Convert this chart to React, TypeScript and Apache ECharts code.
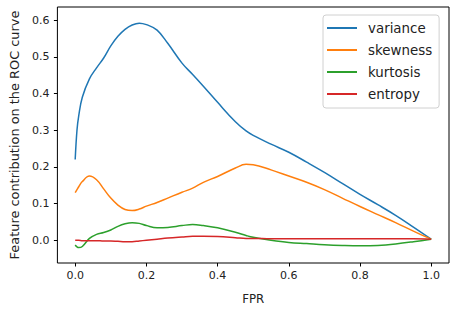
import React, { useEffect, useRef } from "react";
import * as echarts from "echarts";

const fpr = [0, 0.005, 0.01, 0.02, 0.04, 0.06, 0.08, 0.1, 0.12, 0.14, 0.16, 0.18, 0.2, 0.23, 0.26, 0.3, 0.33, 0.36, 0.4, 0.45, 0.48, 0.5, 0.55, 0.6, 0.65, 0.7, 0.75, 0.8, 0.85, 0.9, 0.95, 1.0];
const variance = [0.22, 0.30, 0.34, 0.39, 0.44, 0.47, 0.497, 0.53, 0.556, 0.575, 0.587, 0.592, 0.588, 0.573, 0.537, 0.483, 0.452, 0.42, 0.376, 0.323, 0.298, 0.286, 0.262, 0.24, 0.213, 0.185, 0.155, 0.125, 0.097, 0.068, 0.036, 0.003];
const skewness = [0.13, 0.138, 0.146, 0.16, 0.175, 0.165, 0.14, 0.115, 0.096, 0.084, 0.081, 0.085, 0.093, 0.103, 0.115, 0.131, 0.142, 0.158, 0.174, 0.197, 0.207, 0.206, 0.192, 0.175, 0.158, 0.138, 0.115, 0.092, 0.07, 0.048, 0.025, 0.003];
const kurtosis = [-0.013, -0.018, -0.02, -0.017, 0.005, 0.016, 0.021, 0.028, 0.038, 0.045, 0.048, 0.046, 0.04, 0.034, 0.035, 0.04, 0.043, 0.04, 0.034, 0.022, 0.013, 0.008, 0.0, -0.006, -0.009, -0.012, -0.014, -0.015, -0.014, -0.01, -0.004, 0.003];
const entropy = [0.0, 0.0, 0.0, -0.001, -0.001, -0.001, -0.002, -0.002, -0.003, -0.004, -0.004, -0.002, 0.0, 0.003, 0.006, 0.009, 0.011, 0.011, 0.01, 0.007, 0.005, 0.005, 0.004, 0.004, 0.004, 0.004, 0.004, 0.004, 0.004, 0.004, 0.004, 0.003];

const seriesNames = ["variance", "skewness", "kurtosis", "entropy"];
const seriesValues = [variance, skewness, kurtosis, entropy];
const colors = ["#1f77b4", "#ff7f0e", "#2ca02c", "#d62728"];
const xTicks = [0, 0.2, 0.4, 0.6, 0.8, 1.0];
const yTicks = [0, 0.1, 0.2, 0.3, 0.4, 0.5, 0.6];

export default function App() {
  const ref = useRef<HTMLDivElement>(null);
  useEffect(() => {
    document.body.style.margin = "0";
    const chart = echarts.init(ref.current!, null, { renderer: "svg" });
    const font = "DejaVu Sans";
    const fs = 11;
    chart.setOption({
      animation: false,
      backgroundColor: "#ffffff",
      color: colors,
      grid: {
        left: 52,
        right: 8,
        top: 7,
        bottom: 45,
        show: true,
        borderColor: "#000",
        borderWidth: 1,
        backgroundColor: "transparent",
      },
      legend: {
        orient: "vertical",
        left: 323,
        top: 15,
        width: 119,
        padding: [5, 7, 6, 4],
        itemWidth: 30,
        itemHeight: 2,
        itemGap: 6,
        icon: "rect",
        backgroundColor: "rgba(255,255,255,0.8)",
        borderColor: "#d0d0d0",
        borderWidth: 1,
        borderRadius: 3,
        textStyle: {
          fontFamily: font,
          fontSize: 13.4,
          color: "#222",
          lineHeight: 16,
          padding: [0, 0, 0, 6],
        },
        data: seriesNames,
      },
      xAxis: {
        type: "value",
        min: -0.05,
        max: 1.05,
        name: "FPR",
        nameLocation: "middle",
        nameGap: 30,
        nameTextStyle: { fontFamily: font, fontSize: 11.8, color: "#222" },
        axisLine: { show: false, onZero: false },
        splitLine: { show: false },
        axisTick: {
          show: true,
          length: 3.5,
          lineStyle: { color: "#000" },
          customValues: xTicks,
        },
        axisLabel: {
          fontFamily: font,
          fontSize: fs,
          color: "#222",
          margin: 7,
          customValues: xTicks,
          formatter: (v: number) => v.toFixed(1),
        },
      },
      yAxis: {
        type: "value",
        min: -0.062,
        max: 0.636,
        name: "Feature contribution on the ROC curve",
        nameLocation: "middle",
        nameGap: 34,
        nameTextStyle: { fontFamily: font, fontSize: 12.9, color: "#222" },
        axisLine: { show: false, onZero: false },
        splitLine: { show: false },
        axisTick: {
          show: true,
          length: 3.5,
          lineStyle: { color: "#000" },
          customValues: yTicks,
        },
        axisLabel: {
          fontFamily: font,
          fontSize: fs,
          color: "#222",
          margin: 8,
          customValues: yTicks,
          formatter: (v: number) => v.toFixed(1),
        },
      },
      series: seriesNames.map((name, i) => ({
        name,
        type: "line",
        data: fpr.map((x, j) => [x, seriesValues[i][j]]),
        smooth: 0.4,
        showSymbol: false,
        symbol: "none",
        lineStyle: { width: 1.5, color: colors[i] },
        itemStyle: { color: colors[i] },
      })),
    });
    return () => chart.dispose();
  }, []);
  return <div ref={ref} style={{ width: 457, height: 310 }} />;
}
